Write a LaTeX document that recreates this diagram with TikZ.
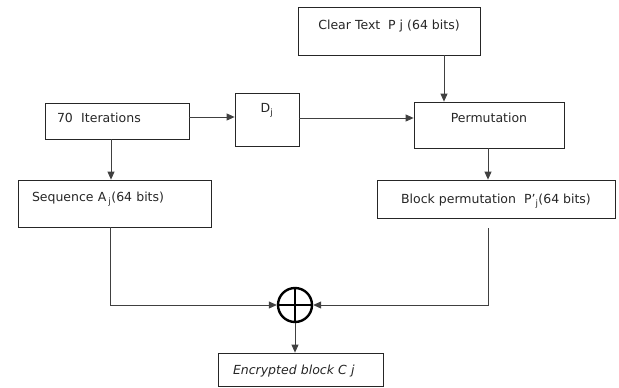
\documentclass[tikz,border=0pt]{standalone}
\usepackage{fontspec}
\setmainfont{DejaVu Sans}
\usetikzlibrary{arrows.meta}
\tikzset{
  box/.style={draw=black!85, line width=0.8pt, rectangle, inner sep=0pt,
    font=\fontsize{12.5}{15}\selectfont, text=black!85, text height=9pt, text depth=0pt},
  lift/.style={text depth=#1},
  lefttext/.style={align=left, inner xsep=#1},
  link/.style={draw=black!75, line width=0.8pt, -{Triangle[length=8pt,width=7pt]}},
}
\newcommand{\sub}[1]{\textsubscript{#1}}
\begin{document}
\begin{tikzpicture}[x=1pt, y=-1pt]
\useasboundingbox (0,0) rectangle (619,388);
\node[box, lift=12pt, minimum width=182pt, minimum height=48pt] (clear) at (389,31) {Clear Text\ \ P j (64 bits)};
\node[box, lift=6pt, lefttext=12pt, text width=120pt, minimum height=36pt] (iter) at (117,121) {70\ \ Iterations};
\node[box, lift=23pt, minimum width=64pt, minimum height=53pt] (dj) at (267,119.5) {D\sub{j}};
\node[box, lift=14pt, minimum width=150pt, minimum height=46pt] (perm) at (489,125) {Permutation};
\node[box, lift=13pt, lefttext=14pt, text width=165pt, minimum height=47pt] (seq) at (114.5,203.5) {Sequence A\,\sub{j}(64 bits)};
\node[box, minimum width=238pt, minimum height=38pt] (blk) at (496,199) {Block permutation\ \ P'\sub{j}(64 bits)};
\node[draw=black, line width=2.4pt, circle, minimum size=34pt, inner sep=0pt] (xor) at (295,305) {};
\draw[line width=2.8pt] (xor.north) -- (xor.south) (xor.west) -- (xor.east);
\node[box, lefttext=15pt, text width=135pt, minimum height=33pt] (enc) at (300.5,369.5) {\itshape Encrypted block C j};
\draw[link] ([xshift=55pt]clear.south) -- ([xshift=55pt]clear.south |- perm.north);
\draw[link] ([yshift=4pt]iter.east) -- ([yshift=4pt]iter.east -| dj.west);
\draw[link] ([yshift=1.5pt]dj.east) -- ([yshift=1.5pt]dj.east -| perm.west);
\draw[link] ([xshift=-6pt]iter.south) -- ([xshift=-6pt]iter.south |- seq.north);
\draw[link] ([xshift=-1pt]perm.south) -- ([xshift=-1pt]perm.south |- blk.north);
\draw[link] ([xshift=-4.5pt]seq.south) |- (xor.west);
\draw[link] ([xshift=-8pt,yshift=-10pt]blk.south) |- (xor.east);
\draw[link] (xor.south) -- (xor.south |- enc.north);
\end{tikzpicture}
\end{document}
